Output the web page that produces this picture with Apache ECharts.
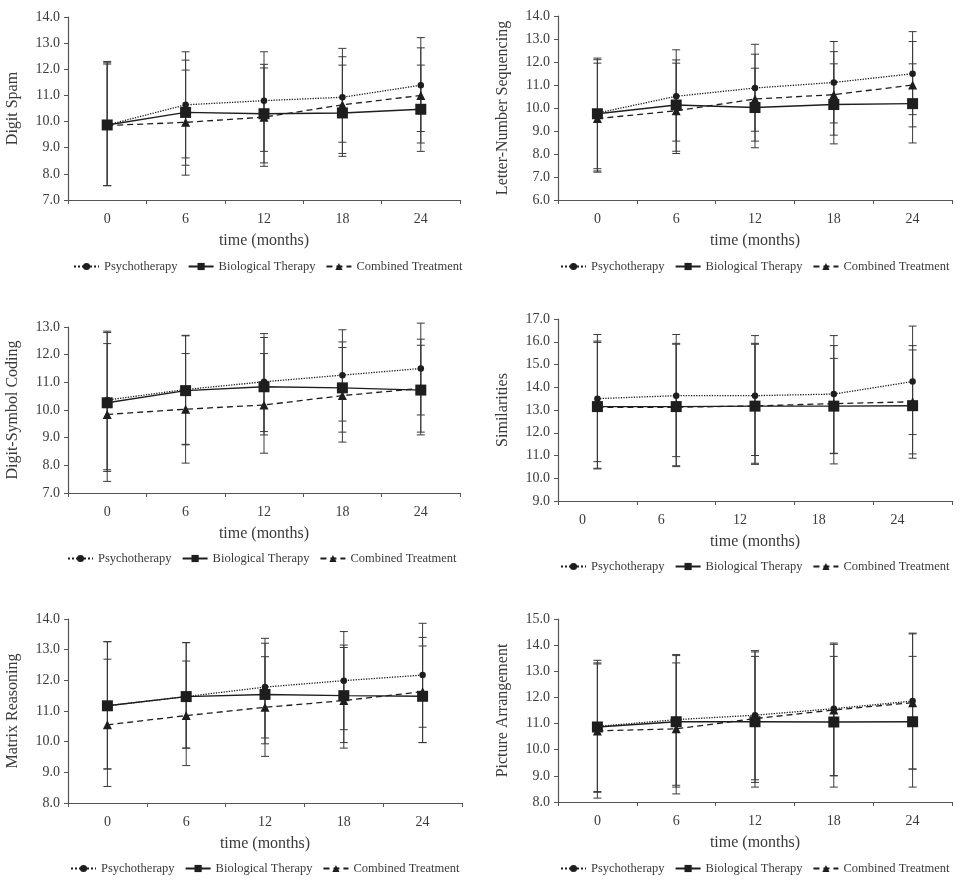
<!DOCTYPE html>
<html>
<head>
<meta charset="utf-8">
<script src="https://cdn.jsdelivr.net/npm/echarts@6/dist/echarts.min.js"></script>
<style>
  html, body { margin: 0; padding: 0; background: #fff; }
  #chart { width: 962px; height: 883px; }
</style>
</head>
<body>
<div id="chart"></div>
<script>
// time points (months)
const months = ['0', '6', '12', '18', '24'];
const groupNames = ['Psychotherapy', 'Biological Therapy', 'Combined Treatment'];

// Digit Spam
const digitSpanPsy = [9.87, 10.64, 10.80, 10.93, 11.39];
const digitSpanBio = [9.87, 10.35, 10.30, 10.33, 10.47];
const digitSpanComb = [9.85, 9.97, 10.17, 10.64, 11.00];
const digitSpanPsyErr = [[7.55, 12.30], [8.61, 12.67], [8.86, 12.67], [9.21, 12.80], [9.62, 13.21]];
const digitSpanBioErr = [[7.55, 12.25], [8.33, 12.35], [8.42, 12.19], [8.67, 12.16], [8.86, 12.16]];
const digitSpanCombErr = [[7.55, 12.20], [7.95, 11.97], [8.29, 12.05], [8.78, 12.48], [9.18, 12.82]];

// Letter-Number Sequencing
const letterNumPsy = [9.78, 10.51, 10.87, 11.11, 11.49];
const letterNumBio = [9.75, 10.13, 10.02, 10.15, 10.19];
const letterNumComb = [9.54, 9.88, 10.39, 10.58, 11.00];
const letterNumPsyErr = [[7.36, 12.17], [8.56, 12.53], [8.99, 12.77], [9.35, 12.89], [9.71, 13.32]];
const letterNumBioErr = [[7.26, 12.10], [8.12, 12.09], [8.27, 11.73], [8.44, 11.92], [8.48, 11.92]];
const letterNumCombErr = [[7.21, 11.95], [8.02, 11.95], [8.56, 12.34], [8.82, 12.45], [9.18, 12.89]];

// Digit-Symbol Coding
const digitSymPsy = [10.36, 10.74, 11.02, 11.26, 11.50];
const digitSymBio = [10.26, 10.70, 10.84, 10.80, 10.72];
const digitSymComb = [9.84, 10.03, 10.18, 10.52, 10.78];
const digitSymPsyErr = [[7.84, 12.85], [8.76, 12.70], [9.22, 12.76], [9.60, 12.90], [9.82, 13.14]];
const digitSymBioErr = [[7.78, 12.80], [8.74, 12.68], [9.10, 12.62], [9.20, 12.46], [9.10, 12.34]];
const digitSymCombErr = [[7.42, 12.40], [8.08, 12.04], [8.44, 12.04], [8.84, 12.26], [9.20, 12.56]];

// Similarities
const similarPsy = [13.50, 13.63, 13.63, 13.70, 14.25];
const similarBio = [13.15, 13.15, 13.17, 13.17, 13.19];
const similarComb = [13.12, 13.12, 13.18, 13.28, 13.36];
const similarPsyErr = [[10.73, 16.32], [10.95, 16.32], [11.00, 16.27], [11.10, 16.27], [11.92, 16.69]];
const similarBioErr = [[10.44, 16.03], [10.55, 15.93], [10.66, 15.93], [11.08, 15.27], [10.88, 15.64]];
const similarCombErr = [[10.41, 15.97], [10.51, 15.89], [10.61, 15.89], [10.63, 15.83], [11.07, 15.83]];

// Matrix Reasoning
const matrixPsy = [11.17, 11.47, 11.78, 11.99, 12.17];
const matrixBio = [11.17, 11.47, 11.54, 11.50, 11.48];
const matrixComb = [10.55, 10.85, 11.12, 11.34, 11.63];
const matrixPsyErr = [[9.11, 13.26], [9.79, 13.23], [10.12, 13.37], [10.39, 13.59], [10.47, 13.86]];
const matrixBioErr = [[9.11, 13.26], [9.79, 13.23], [9.93, 13.21], [9.97, 13.15], [9.97, 13.12]];
const matrixCombErr = [[8.54, 12.69], [9.22, 12.63], [9.52, 12.77], [9.79, 13.07], [9.97, 13.40]];

// Picture Arrangement
const pictureArrPsy = [10.89, 11.15, 11.32, 11.57, 11.86];
const pictureArrBio = [10.87, 11.07, 11.07, 11.06, 11.07];
const pictureArrComb = [10.72, 10.80, 11.19, 11.52, 11.80];
const pictureArrPsyErr = [[8.37, 13.42], [8.64, 13.64], [8.85, 13.79], [9.01, 14.08], [9.26, 14.46]];
const pictureArrBioErr = [[8.40, 13.32], [8.57, 13.60], [8.57, 13.57], [8.57, 13.57], [8.57, 13.57]];
const pictureArrCombErr = [[8.15, 13.28], [8.31, 13.32], [8.75, 13.74], [9.00, 14.03], [9.26, 14.43]];

const panels = [
  { name: 'Digit Spam', min: 7, max: 14, means: [digitSpanPsy, digitSpanBio, digitSpanComb], errs: [digitSpanPsyErr, digitSpanBioErr, digitSpanCombErr] },
  { name: 'Letter-Number Sequencing', min: 6, max: 14, means: [letterNumPsy, letterNumBio, letterNumComb], errs: [letterNumPsyErr, letterNumBioErr, letterNumCombErr] },
  { name: 'Digit-Symbol Coding', min: 7, max: 13, means: [digitSymPsy, digitSymBio, digitSymComb], errs: [digitSymPsyErr, digitSymBioErr, digitSymCombErr] },
  { name: 'Similarities', min: 9, max: 17, means: [similarPsy, similarBio, similarComb], errs: [similarPsyErr, similarBioErr, similarCombErr] },
  { name: 'Matrix Reasoning', min: 8, max: 14, means: [matrixPsy, matrixBio, matrixComb], errs: [matrixPsyErr, matrixBioErr, matrixCombErr] },
  { name: 'Picture Arrangement', min: 8, max: 15, means: [pictureArrPsy, pictureArrBio, pictureArrComb], errs: [pictureArrPsyErr, pictureArrBioErr, pictureArrCombErr] }
];

// grid boxes and legend spots, one per panel
const layout = [
  { left: 68, top: 17, width: 392, height: 183, legendLeft: 73, legendTop: 260, labelShift: 0 },
  { left: 558, top: 16, width: 394, height: 184, legendLeft: 560, legendTop: 260, labelShift: 0 },
  { left: 68, top: 327, width: 392, height: 166, legendLeft: 67, legendTop: 552, labelShift: 0 },
  { left: 558, top: 319, width: 394, height: 182, legendLeft: 560, legendTop: 560, labelShift: 30 },
  { left: 68, top: 619, width: 394, height: 184, legendLeft: 70, legendTop: 862, labelShift: 0 },
  { left: 558, top: 619, width: 394, height: 183, legendLeft: 560, legendTop: 862, labelShift: 0 }
];

const FONT = 'Liberation Serif';
const INK = '#1e1e1e';
const AXIS = '#555';
const TEXT = '#3a3a3a';

const lineLooks = [
  { symbol: 'circle', symbolSize: 6.5, lineStyle: { type: 'dotted', width: 1.3 } },
  { symbol: 'rect', symbolSize: 11, lineStyle: { type: 'solid', width: 1.4 } },
  { symbol: 'triangle', symbolSize: 9, lineStyle: { type: [6, 4], width: 1.3 } }
];

function errorBars(params, api) {
  const x = api.value(0);
  const lo = api.coord([x, api.value(1)]);
  const hi = api.coord([x, api.value(2)]);
  const cap = 4;
  const style = { stroke: '#3a3a3a', lineWidth: 1 };
  return {
    type: 'group',
    children: [
      { type: 'line', shape: { x1: hi[0], y1: hi[1], x2: lo[0], y2: lo[1] }, style: style },
      { type: 'line', shape: { x1: hi[0] - cap, y1: hi[1], x2: hi[0] + cap, y2: hi[1] }, style: style },
      { type: 'line', shape: { x1: lo[0] - cap, y1: lo[1], x2: lo[0] + cap, y2: lo[1] }, style: style }
    ]
  };
}

const grid = [], xAxis = [], yAxis = [], legend = [], series = [];

panels.forEach((p, i) => {
  const L = layout[i];
  grid.push({ left: L.left, top: L.top, width: L.width, height: L.height });

  xAxis.push({
    type: 'category',
    gridIndex: i,
    data: months,
    boundaryGap: true,
    name: 'time (months)',
    nameLocation: 'middle',
    nameGap: 33,
    nameTextStyle: { fontFamily: FONT, fontSize: 16, color: TEXT },
    axisLine: { lineStyle: { color: AXIS, width: 1.2 } },
    axisTick: { show: true, length: 4, lineStyle: { color: AXIS } },
    axisLabel: {
      fontFamily: FONT, fontSize: 14, color: TEXT, margin: 12,
      padding: [0, L.labelShift, 0, 0]
    },
    splitLine: { show: false }
  });

  yAxis.push({
    type: 'value',
    gridIndex: i,
    min: p.min,
    max: p.max,
    interval: 1,
    name: p.name,
    nameLocation: 'middle',
    nameGap: 47,
    nameTextStyle: { fontFamily: FONT, fontSize: 16, color: TEXT },
    axisLine: { show: true, lineStyle: { color: AXIS, width: 1.2 } },
    axisTick: { show: true, length: 4, lineStyle: { color: AXIS } },
    axisLabel: {
      fontFamily: FONT, fontSize: 14, color: TEXT, margin: 8,
      formatter: v => v.toFixed(1)
    },
    splitLine: { show: false }
  });

  legend.push({
    data: groupNames,
    left: L.legendLeft,
    top: L.legendTop,
    padding: 0,
    itemWidth: 25,
    itemHeight: 9,
    itemGap: 10,
    selectedMode: false,
    textStyle: { fontFamily: FONT, fontSize: 12.5, color: TEXT }
  });

  groupNames.forEach((g, k) => {
    series.push({
      type: 'custom',
      name: g + ' SD',
      xAxisIndex: i,
      yAxisIndex: i,
      z: 1,
      renderItem: errorBars,
      encode: { x: 0, y: [1, 2] },
      data: p.errs[k].map((e, j) => [j, e[0], e[1]]),
      silent: true
    });
  });

  groupNames.forEach((g, k) => {
    series.push({
      type: 'line',
      name: g,
      xAxisIndex: i,
      yAxisIndex: i,
      z: 3,
      data: p.means[k],
      symbol: lineLooks[k].symbol,
      symbolSize: lineLooks[k].symbolSize,
      showSymbol: true,
      itemStyle: { color: INK },
      lineStyle: Object.assign({ color: INK }, lineLooks[k].lineStyle),
      animation: false
    });
  });
});

const chart = echarts.init(document.getElementById('chart'));
chart.setOption({
  backgroundColor: '#fff',
  animation: false,
  grid, xAxis, yAxis, legend, series
});
</script>
</body>
</html>
